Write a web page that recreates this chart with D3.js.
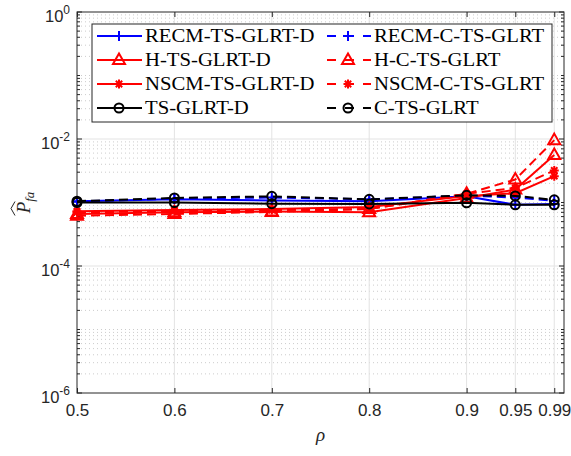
<!DOCTYPE html>
<html>
<head>
<meta charset="utf-8">
<script src="https://cdn.jsdelivr.net/npm/d3@7"></script>
<style>
  body { margin: 0; background: #fff; }
  svg { display: block; }
</style>
</head>
<body>
<div id="chart"></div>
<script>
// rho values (x axis)
var rho = [0.5, 0.6, 0.7, 0.8, 0.9, 0.95, 0.99];
var xTicks = [0.5, 0.6, 0.7, 0.8, 0.9, 0.95, 0.99];
var yTicks = [1, 1e-2, 1e-4, 1e-6];

// estimated Pfa for each detector
var recmD   = [1.05e-3, 1.12e-3, 1.08e-3, 1.05e-3, 1.25e-3, 9.2e-4, 9.5e-4];
var recmC   = [1.03e-3, 1.15e-3, 1.2e-3, 1.12e-3, 1.28e-3, 1.2e-3, 1.06e-3];
var hD      = [6.6e-4, 7.0e-4, 7.2e-4, 7.0e-4, 1.18e-3, 1.6e-3, 5.6e-3];
var hC      = [6.2e-4, 6.6e-4, 7.1e-4, 7.9e-4, 1.37e-3, 2.3e-3, 9.6e-3];
var nscmD   = [7.3e-4, 7.6e-4, 7.9e-4, 8.5e-4, 1.26e-3, 1.4e-3, 2.6e-3];
var nscmC   = [7.0e-4, 7.3e-4, 7.6e-4, 7.9e-4, 1.37e-3, 1.7e-3, 3.2e-3];
var tsD     = [1.0e-3, 1.0e-3, 9.6e-4, 9.5e-4, 9.9e-4, 9.2e-4, 9.2e-4];
var cts     = [1.05e-3, 1.18e-3, 1.25e-3, 1.12e-3, 1.3e-3, 1.27e-3, 1.1e-3];

var names = ["RECM-TS-GLRT-D", "RECM-C-TS-GLRT", "H-TS-GLRT-D", "H-C-TS-GLRT",
             "NSCM-TS-GLRT-D", "NSCM-C-TS-GLRT", "TS-GLRT-D", "C-TS-GLRT"];
var values = [recmD, recmC, hD, hC, nscmD, nscmC, tsD, cts];
var colors = ["#0000ff", "#0000ff", "#ff0000", "#ff0000", "#ff0000", "#ff0000", "#000000", "#000000"];
var markers = ["plus", "plus", "tri", "tri", "star", "star", "circle", "circle"];
var dashed = [false, true, false, true, false, true, false, true];

(function () {
    var width = 571, height = 456;
    var mLeft = 77, mRight = 564, mTop = 12, mBottom = 393;
    var axisColor = "#262626";

    var svg = d3.select("#chart").append("svg")
        .attr("width", width).attr("height", height)
        .style("font-family", "'Liberation Sans', Arial, sans-serif");

    var x = d3.scaleLinear().domain([0.5, 1.0]).range([mLeft, mRight]);
    var y = d3.scaleLog().domain([1e-6, 1]).range([mBottom, mTop]);

    // grid
    var minorY = [];
    for (var e = -6; e < 0; e++) {
        for (var k = 1; k < 10; k++) {
            if (k === 1 && e % 2 === 0) continue;
            minorY.push(k * Math.pow(10, e));
        }
    }
    var grid = svg.append("g");
    grid.selectAll(".ymin").data(minorY).enter().append("line")
        .attr("x1", mLeft).attr("x2", mRight)
        .attr("y1", function (d) { return y(d); })
        .attr("y2", function (d) { return y(d); })
        .attr("stroke", "#cccccc").attr("stroke-width", 1)
        .attr("stroke-dasharray", "1,3");
    grid.selectAll(".ymaj").data(yTicks.slice(1, 3)).enter().append("line")
        .attr("x1", mLeft).attr("x2", mRight)
        .attr("y1", function (d) { return y(d); })
        .attr("y2", function (d) { return y(d); })
        .attr("stroke", "#e3e3e3").attr("stroke-width", 1);
    grid.selectAll(".xmaj").data(xTicks.slice(1)).enter().append("line")
        .attr("x1", function (d) { return x(d); })
        .attr("x2", function (d) { return x(d); })
        .attr("y1", mTop).attr("y2", mBottom)
        .attr("stroke", "#e3e3e3").attr("stroke-width", 1);

    // axes (ticks inward, box on)
    var xAxis = d3.axisBottom(x).tickValues(xTicks).tickSize(-5)
        .tickFormat(d3.format(""));
    var gx = svg.append("g").attr("transform", "translate(0," + mBottom + ")").call(xAxis);
    gx.select(".domain").remove();
    gx.selectAll("line").attr("stroke", axisColor);
    gx.selectAll("text").attr("fill", axisColor).style("font-size", "17px")
        .attr("y", 11).attr("dy", "0.71em");

    var gxTop = svg.append("g").attr("transform", "translate(0," + mTop + ")")
        .call(d3.axisTop(x).tickValues(xTicks).tickSize(-5).tickFormat(""));
    gxTop.select(".domain").remove();
    gxTop.selectAll("line").attr("stroke", axisColor);

    [mLeft, mRight].forEach(function (px, i) {
        var sgn = i === 0 ? 1 : -1;
        var g = svg.append("g");
        g.selectAll(".mt").data(minorY).enter().append("line")
            .attr("x1", px).attr("x2", px + sgn * 3)
            .attr("y1", function (d) { return y(d); })
            .attr("y2", function (d) { return y(d); })
            .attr("stroke", axisColor);
        g.selectAll(".Mt").data(yTicks).enter().append("line")
            .attr("x1", px).attr("x2", px + sgn * 5)
            .attr("y1", function (d) { return y(d); })
            .attr("y2", function (d) { return y(d); })
            .attr("stroke", axisColor);
    });

    var ylab = svg.append("g").selectAll("text").data(yTicks).enter().append("text")
        .attr("x", mLeft - 7)
        .attr("y", function (d) { return y(d) + 10; })
        .attr("text-anchor", "end")
        .attr("fill", axisColor)
        .style("font-size", "16.5px");
    ylab.append("tspan").text("10");
    ylab.append("tspan").attr("dy", -8).style("font-size", "12px")
        .text(function (d) { return String(Math.round(Math.log10(d))); });

    svg.append("rect")
        .attr("x", mLeft).attr("y", mTop)
        .attr("width", mRight - mLeft).attr("height", mBottom - mTop)
        .attr("fill", "none").attr("stroke", axisColor).attr("stroke-width", 1);

    // axis labels
    svg.append("text").attr("x", (mLeft + mRight) / 2).attr("y", 441)
        .attr("text-anchor", "middle").attr("fill", axisColor)
        .style("font-family", "'Liberation Serif', serif").style("font-style", "italic")
        .style("font-size", "19px").text("ρ");

    var yl = svg.append("g").attr("transform", "translate(30," + ((mTop + mBottom) / 2) + ") rotate(-90)");
    var ylt = yl.append("text").attr("text-anchor", "middle").attr("fill", axisColor)
        .style("font-family", "'Liberation Serif', serif").style("font-style", "italic")
        .style("font-size", "19px");
    ylt.append("tspan").text("P");
    ylt.append("tspan").attr("dy", 4).style("font-size", "13px").text("fa");
    yl.append("path").attr("d", "M-13,-15 L-6,-19 L1,-15")
        .attr("fill", "none").attr("stroke", axisColor).attr("stroke-width", 1);

    // markers
    function drawMarker(g, type, color, cx, cy) {
        if (type === "circle") {
            g.append("circle").attr("cx", cx).attr("cy", cy).attr("r", 4.5)
                .attr("fill", "none").attr("stroke", color).attr("stroke-width", 2);
        } else if (type === "plus") {
            g.append("path").attr("d", "M" + (cx - 5) + "," + cy + "h10M" + cx + "," + (cy - 5) + "v10")
                .attr("stroke", color).attr("stroke-width", 2);
        } else if (type === "tri") {
            g.append("path").attr("d", "M" + cx + "," + (cy - 6.5) + "L" + (cx + 6) + "," + (cy + 4) +
                "L" + (cx - 6) + "," + (cy + 4) + "Z")
                .attr("fill", "none").attr("stroke", color).attr("stroke-width", 2);
        } else if (type === "star") {
            var r = 4.5, a = r * 0.707;
            g.append("path").attr("d",
                "M" + (cx - r) + "," + cy + "h" + 2 * r +
                "M" + cx + "," + (cy - r) + "v" + 2 * r +
                "M" + (cx - a) + "," + (cy - a) + "l" + 2 * a + "," + 2 * a +
                "M" + (cx - a) + "," + (cy + a) + "l" + 2 * a + "," + (-2 * a))
                .attr("stroke", color).attr("stroke-width", 2);
        }
    }

    var line = d3.line()
        .x(function (d, i) { return x(rho[i]); })
        .y(function (d) { return y(d); });

    var plot = svg.append("g");
    values.forEach(function (vals, s) {
        var g = plot.append("g");
        g.append("path").attr("d", line(vals))
            .attr("fill", "none").attr("stroke", colors[s]).attr("stroke-width", 2)
            .attr("stroke-dasharray", dashed[s] ? "9,5" : null);
        vals.forEach(function (v, i) {
            drawMarker(g, markers[s], colors[s], x(rho[i]), y(v));
        });
    });

    // legend, two columns filled row-wise
    var legend = svg.append("g");
    legend.append("rect").attr("x", 92).attr("y", 24).attr("width", 460).attr("height", 98)
        .attr("fill", "#fff").attr("stroke", axisColor).attr("stroke-width", 1);
    var colX = [97, 326];
    names.forEach(function (name, s) {
        var cx0 = colX[s % 2], cy0 = 36 + Math.floor(s / 2) * 24;
        var g = legend.append("g");
        g.append("line").attr("x1", cx0).attr("x2", cx0 + 45)
            .attr("y1", cy0).attr("y2", cy0)
            .attr("stroke", colors[s]).attr("stroke-width", 2)
            .attr("stroke-dasharray", dashed[s] ? "9,9" : null)
            .attr("stroke-dashoffset", dashed[s] ? -1 : null);
        drawMarker(g, markers[s], colors[s], cx0 + 22, cy0);
        var t = g.append("text").attr("x", cx0 + 48).attr("y", cy0 + 6)
            .attr("fill", "#000")
            .style("font-family", "'Liberation Serif', 'Times New Roman', serif")
            .style("font-size", "18px").text(name);
        var w = t.node().getComputedTextLength();
        t.attr("textLength", w * 1.15).attr("lengthAdjust", "spacingAndGlyphs");
    });
})();
</script>
</body>
</html>
